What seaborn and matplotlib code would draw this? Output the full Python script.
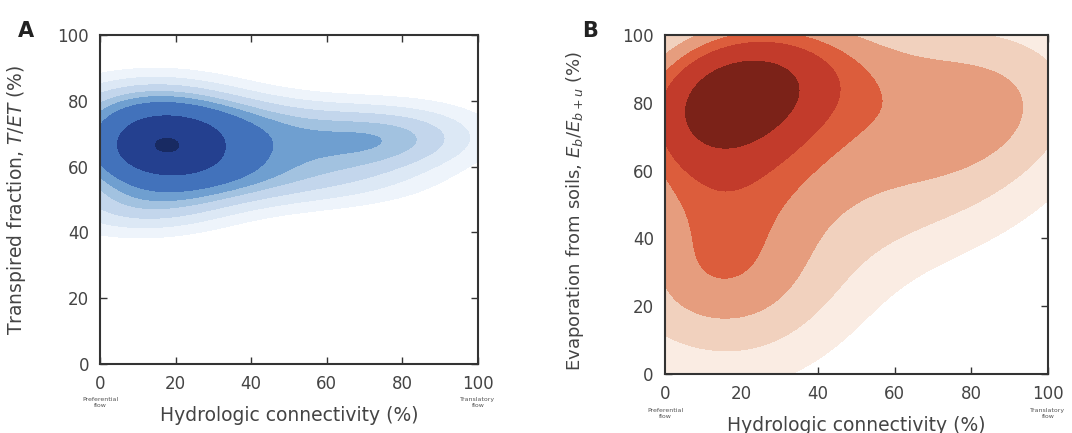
import matplotlib
matplotlib.use("Agg")
import matplotlib.pyplot as plt
from matplotlib.colors import ListedColormap, BoundaryNorm
import seaborn as sns

conn_a = [3, 3, 3, 6, 6, 6, 6, 9, 9, 9, 12, 12, 12, 12, 14, 14, 14, 16, 16, 16, 16,
          19, 19, 22, 22, 22, 25, 25, 28, 28, 28,
          32, 35, 38, 41, 44, 47, 50, 54, 57, 60,
          64, 68, 70, 72, 77, 78, 82, 84, 88]
tfrac_a = [50, 64, 76, 46, 60, 70, 82, 56, 66, 74, 44, 62, 69, 80, 58, 67, 72, 50, 64, 76, 84,
           60, 70, 48, 65, 78, 58, 72, 64, 54, 76,
           60, 72, 55, 66, 76, 58, 69, 52, 74, 63,
           57, 73, 68, 65, 55, 66, 75, 70, 67]

# panel B: hydrologic connectivity vs evaporation from soils
conn_b = [10, 11, 12, 13, 14, 15, 16, 17, 18, 19, 20, 21, 22, 24, 25, 27, 29, 31,
          36, 41, 46, 51, 61, 71, 79, 86, 93,
          4, 6, 8, 9, 11, 6, 15, 17, 19, 26, 16, 12, 7, 3, 4, 18,
          28, 32, 36, 42, 48, 55, 62, 70, 78, 86, 94,
          24, 35, 50, 65, 80]
evap_b = [80, 86, 74, 89, 82, 77, 86, 72, 90, 81, 76, 87, 83, 89, 79, 86, 82, 88,
          90, 84, 91, 86, 90, 91, 84, 88, 83,
          68, 58, 50, 42, 34, 30, 18, 62, 52, 26, 38, 60, 75, 84, 22, 32,
          58, 44, 66, 55, 70, 62, 75, 68, 74, 70, 72,
          12, 25, 40, 50, 55]

blues = ["#eef4fb", "#dce8f5", "#c3d6ec", "#a2c2e0", "#6f9fd0", "#4272bb", "#24408f", "#182a62"]
reds = ["#faece3", "#f1d1be", "#e69d7e", "#dc5d3c", "#c23b2b", "#7b2218"]
levels_a = [0.08, 0.16, 0.26, 0.38, 0.5, 0.64, 0.83, 0.99, 1.0]
levels_b = [0.03, 0.12, 0.28, 0.54, 0.70, 0.86, 1.0]

sns.set_style("white")
plt.rcParams["font.family"] = ["DejaVu Sans"]

fig = plt.figure(figsize=(10.72, 4.33), dpi=100)
ax_a = fig.add_axes([0.0933, 0.1594, 0.3526, 0.7598])
ax_b = fig.add_axes([0.6203, 0.1363, 0.3573, 0.7829])


def density(ax, x, y, cols, levels, bw):
    sns.kdeplot(x=x, y=y, fill=True, cmap="Greys", levels=levels, bw_adjust=bw, ax=ax)
    # one flat colour per band
    cs = ax.collections[-1]
    cs.set_cmap(ListedColormap(cols))
    cs.set_norm(BoundaryNorm(cs.levels, len(cols)))


density(ax_a, conn_a, tfrac_a, blues, levels_a, 1.2)
density(ax_b, conn_b, evap_b, reds, levels_b, 1.12)

for ax in (ax_a, ax_b):
    ax.set_xlim(0, 100)
    ax.set_ylim(0, 100)
    ax.set_xticks([0, 20, 40, 60, 80, 100])
    ax.set_yticks([0, 20, 40, 60, 80, 100])
    ax.tick_params(direction="in", bottom=True, left=True, top=True, right=True,
                   length=5, width=1, color="#333333",
                   labelsize=12, labelcolor="#444444", pad=8)
    for s in ax.spines.values():
        s.set_linewidth(1.5)
        s.set_color("#333333")
    ax.set_xlabel("Hydrologic connectivity (%)", fontsize=13.5, color="#444444", labelpad=9)
    ax.text(0, -0.10, "Preferential\nflow", transform=ax.get_xaxis_transform(),
            ha="center", va="top", fontsize=4.5, color="#555555")
    ax.text(100, -0.10, "Translatory\nflow", transform=ax.get_xaxis_transform(),
            ha="center", va="top", fontsize=4.5, color="#555555")

ax_a.set_ylabel("Transpired fraction, $T/ET$ (%)", fontsize=13.5, color="#444444")
ax_a.yaxis.set_label_coords(-0.19, 0.5)
ax_b.set_ylabel("Evaporation from soils, $E_b/E_{b+u}$ (%)", fontsize=13, color="#444444")
ax_b.yaxis.set_label_coords(-0.207, 0.48)

fig.text(0.017, 0.915, "A", fontsize=15, fontweight="bold", color="#222222")
fig.text(0.543, 0.915, "B", fontsize=15, fontweight="bold", color="#222222")

fig.savefig("out.png", dpi=100)
